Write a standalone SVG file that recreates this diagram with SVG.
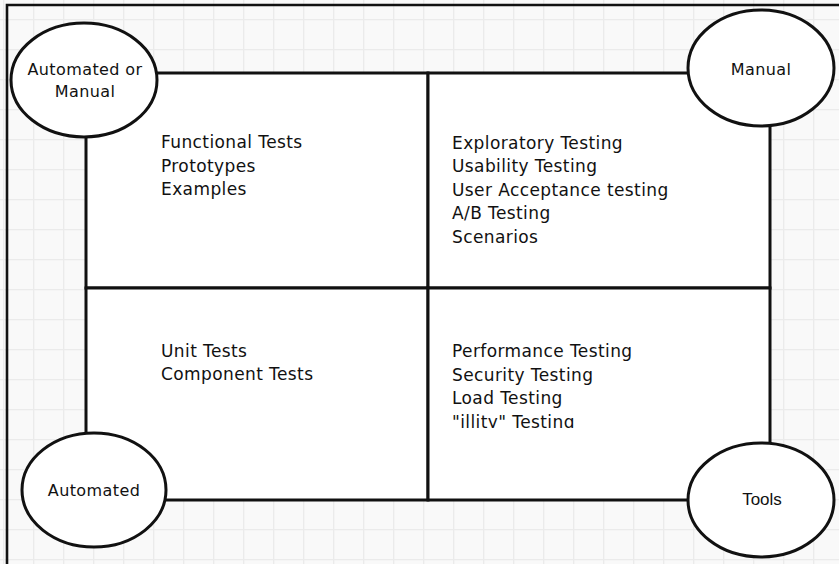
<svg xmlns="http://www.w3.org/2000/svg" width="839" height="564" viewBox="0 0 839 564">
  <defs>
    <pattern id="grid" x="3" y="19" width="30" height="30" patternUnits="userSpaceOnUse">
      <rect width="30" height="30" fill="#f9f9f9"/>
      <path d="M0 0.5H30M0.5 0V30" fill="none" stroke="#ebebeb" stroke-width="1.6"/>
    </pattern>
    <clipPath id="cellClip">
      <rect x="430" y="290" width="338" height="138"/>
    </clipPath>
  </defs>
  <style>
    .frame { fill: none; stroke: #111; stroke-width: 2.6; }
    .cell { fill: #fff; stroke: #111; stroke-width: 3; }
    .oval { fill: #fff; stroke: #111; stroke-width: 3; }
    .item { font-family: "DejaVu Sans", "Noto Sans", sans-serif; font-size: 17px; letter-spacing: 0.4px; fill: #111; }
    .label { font-family: "DejaVu Sans", "Noto Sans", sans-serif; font-size: 16px; letter-spacing: 0.4px; fill: #111; text-anchor: middle; }
    .plain { font-family: "Liberation Sans", Arial, sans-serif; font-size: 17px; fill: #111; text-anchor: middle; }
  </style>

  <!-- canvas with grid -->
  <rect x="0" y="0" width="839" height="564" fill="url(#grid)"/>
  <path class="frame" d="M7 564V5H839"/>

  <!-- quadrant matrix -->
  <g id="quadrant-top-left">
    <rect class="cell" x="86" y="73" width="342" height="215"/>
    <text class="item" x="161" y="148">Functional Tests</text>
    <text class="item" x="161" y="171.5">Prototypes</text>
    <text class="item" x="161" y="195">Examples</text>
  </g>
  <g id="quadrant-top-right">
    <rect class="cell" x="428" y="73" width="342" height="215"/>
    <text class="item" x="452" y="148.5">Exploratory Testing</text>
    <text class="item" x="452" y="172">Usability Testing</text>
    <text class="item" x="452" y="195.5">User Acceptance testing</text>
    <text class="item" x="452" y="219">A/B Testing</text>
    <text class="item" x="452" y="242.5">Scenarios</text>
  </g>
  <g id="quadrant-bottom-left">
    <rect class="cell" x="86" y="288" width="342" height="212"/>
    <text class="item" x="161" y="357">Unit Tests</text>
    <text class="item" x="161" y="380">Component Tests</text>
  </g>
  <g id="quadrant-bottom-right">
    <rect class="cell" x="428" y="288" width="342" height="212"/>
    <g clip-path="url(#cellClip)">
      <text class="item" x="452" y="357">Performance Testing</text>
      <text class="item" x="452" y="380.5">Security Testing</text>
      <text class="item" x="452" y="404">Load Testing</text>
      <text class="item" x="452" y="427.5">"illity" Testing</text>
    </g>
  </g>

  <!-- no connectors: the axis labels sit on the matrix corners -->
  <g id="connectors"/>

  <!-- corner labels -->
  <g id="automated-or-manual">
    <ellipse class="oval" cx="84" cy="80" rx="73" ry="57"/>
    <text class="label" x="85" y="75">Automated or</text>
    <text class="label" x="85" y="97">Manual</text>
  </g>
  <g id="manual">
    <ellipse class="oval" cx="761" cy="68" rx="73" ry="58"/>
    <text class="label" x="761" y="75">Manual</text>
  </g>
  <g id="automated">
    <ellipse class="oval" cx="94" cy="490" rx="72" ry="57"/>
    <text class="label" x="94" y="496">Automated</text>
  </g>
  <g id="tools">
    <ellipse class="oval" cx="761" cy="500" rx="73" ry="57"/>
    <text class="plain" x="762" y="505">Tools</text>
  </g>
</svg>
